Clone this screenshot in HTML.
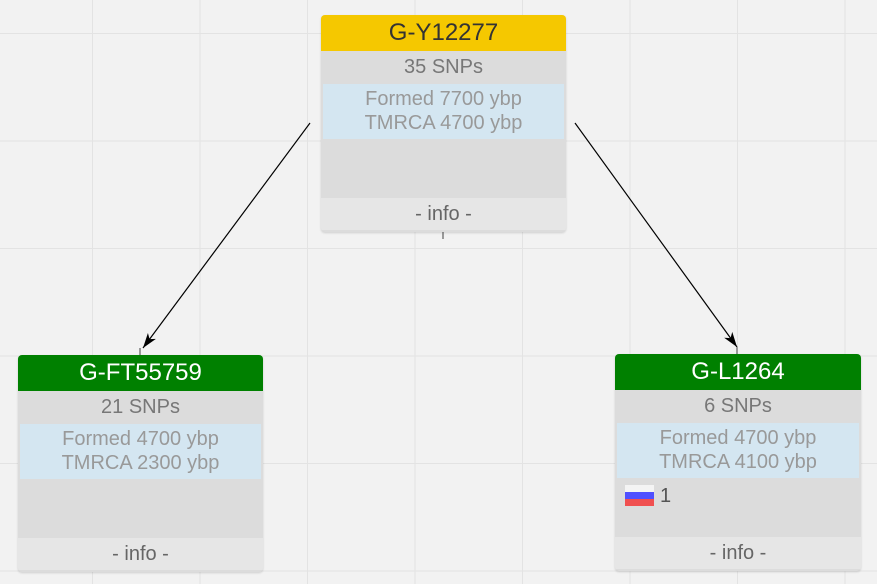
<!DOCTYPE html>
<html><head><style>
body{margin:0;width:877px;height:584px;overflow:hidden;background:#f2f2f2;font-family:"Liberation Sans",Arial,sans-serif;position:relative}
.grid{position:absolute;inset:0;background-image:linear-gradient(#e3e3e3 1px,transparent 1px),linear-gradient(90deg,#e3e3e3 1px,transparent 1px);background-size:107.5px 107.5px;background-position:-15px 33px,92px 0}
.node{position:absolute;width:245px;height:217px;background:#dcdcdc;border-radius:4px;box-shadow:0 1px 2px rgba(0,0,0,.15);overflow:hidden}
.h{height:36px;line-height:36px;text-align:center;font-size:24px}
.s{height:33px;line-height:33px;text-align:center;font-size:20px;color:#777}
.b{margin:0 2px;height:55px;background:#d4e6f1;text-align:center;font-size:20px;color:#999;line-height:24px;padding-top:3px;box-sizing:border-box}
.i{position:absolute;left:0;right:0;bottom:2px;height:32px;line-height:32px;background:#e6e6e6;text-align:center;font-size:20px;color:#666}
</style></head><body>
<div class="grid"></div>
<svg style="position:absolute;left:0;top:0" width="877" height="584">
<defs><marker id="a" markerWidth="16" markerHeight="12" refX="15" refY="6" orient="auto" markerUnits="userSpaceOnUse"><path d="M0,1 L15,6 L0,11 L4,6z" fill="#000"/></marker></defs>
<line x1="310" y1="123" x2="143" y2="348" stroke="#000" stroke-width="1.2" marker-end="url(#a)"/>
<line x1="575" y1="123" x2="737" y2="347" stroke="#000" stroke-width="1.2" marker-end="url(#a)"/>
<rect x="442" y="230" width="2" height="9" fill="#999"/>
<rect x="139" y="348" width="2" height="7" fill="#999"/>
<rect x="736" y="347" width="2" height="7" fill="#999"/>
</svg>
<div class="node" style="left:321px;top:15px">
<div class="h" style="background:#f5c800;color:#333">G-Y12277</div>
<div class="s">35 SNPs</div>
<div class="b">Formed 7700 ybp<br>TMRCA 4700 ybp</div>
<div class="i">- info -</div></div>
<div class="node" style="left:18px;top:355px">
<div class="h" style="background:#008000;color:#fff">G-FT55759</div>
<div class="s">21 SNPs</div>
<div class="b">Formed 4700 ybp<br>TMRCA 2300 ybp</div>
<div class="i">- info -</div></div>
<div class="node" style="left:615px;top:354px;width:246px">
<div class="h" style="background:#008000;color:#fff">G-L1264</div>
<div class="s">6 SNPs</div>
<div class="b">Formed 4700 ybp<br>TMRCA 4100 ybp</div>
<div style="position:absolute;left:10px;top:131px;width:29px;height:21px">
<div style="height:7px;background:#f4f4f4"></div><div style="height:7px;background:#5050ff"></div><div style="height:7px;background:#f05050"></div></div>
<div style="position:absolute;left:45px;top:131px;font-size:20px;color:#555">1</div>
<div class="i">- info -</div></div>
</body></html>
